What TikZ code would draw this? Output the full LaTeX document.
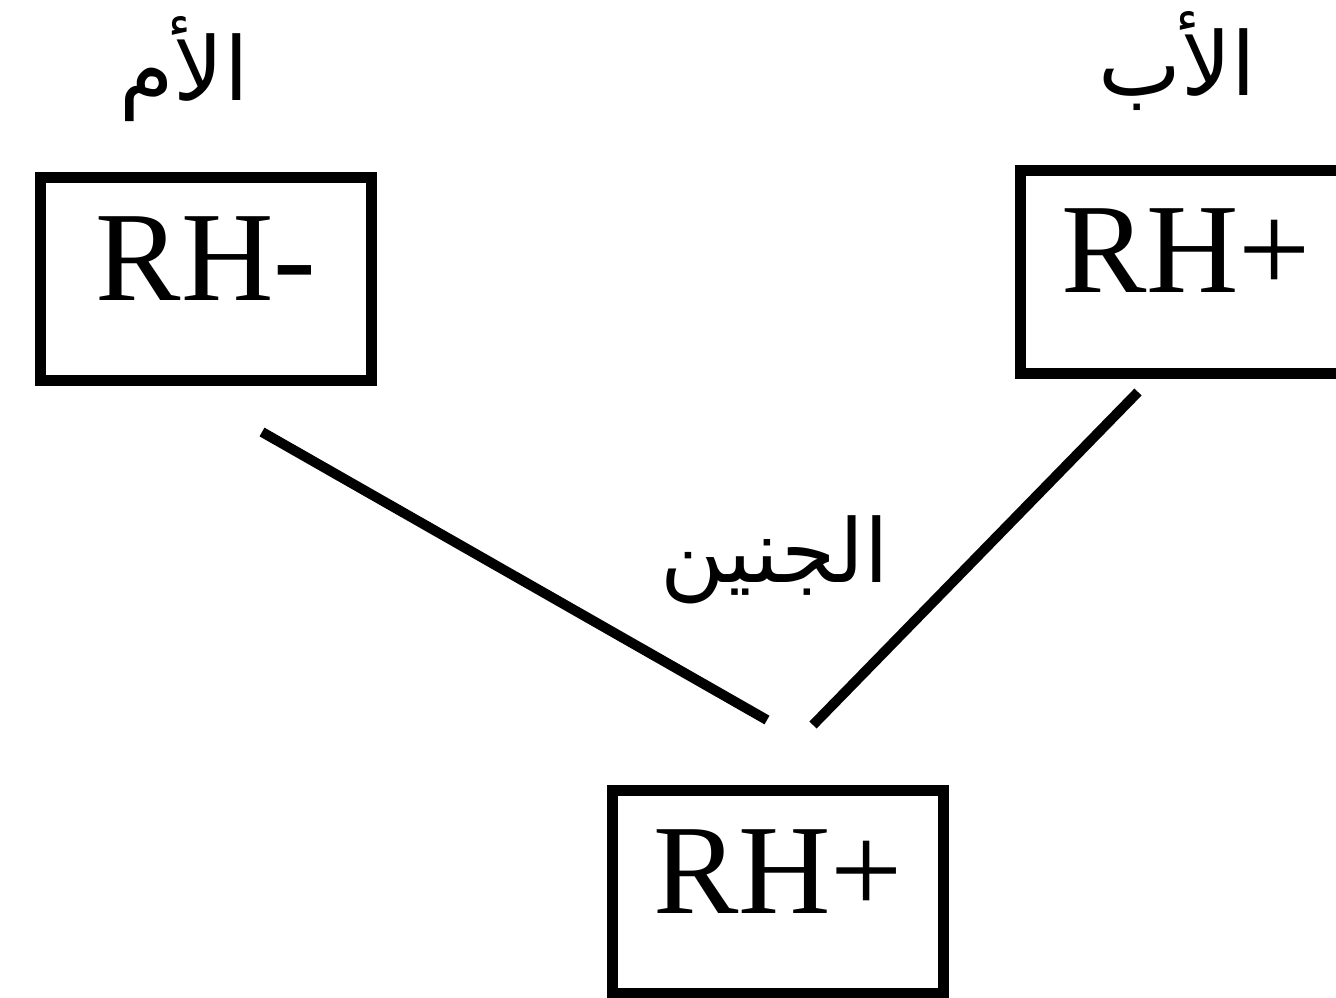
\documentclass[tikz,border=0pt]{standalone}
\usepackage{fontspec}
\usepackage{xcolor}
\usepackage{tikz}
\setmainfont{Liberation Serif}
\newfontfamily\arabicfont[Script=Arabic]{DejaVu Sans}
\TeXXeTstate=1
\definecolor{inkblack}{RGB}{0,0,0}
\newcommand{\rhfont}{\fontsize{128}{130}\selectfont}
\newcommand{\arlabel}[1]{\arabicfont\fontsize{88}{90}\selectfont\beginR #1\endR}

\begin{document}
\begin{tikzpicture}[x=1pt,y=-1pt,
    rhbox/.style={draw=inkblack, line width=11pt, rectangle, inner sep=0pt,
        minimum width=331pt, minimum height=203pt,
        text height=85pt, text depth=43pt, font=\rhfont},
    parent/.style={anchor=base, inkblack},
    link/.style={inkblack, line width=10pt}]
    % Page frame
    \clip (0,0) rectangle (1336,997);

    % Parents
    \node[rhbox] (mother) at (206,279) {RH-};
    \node[rhbox] (father) at (1186,271.5) {RH+};
    \node[parent] (motherlabel) at (184,100) {\arlabel{الأم}};
    \node[parent] (fatherlabel) at (1177,95) {\arlabel{الأب}};

    % Fetus
    \node[rhbox] (fetus) at (778,892) {RH+};
    \node[parent] (fetuslabel) at (775,582) {\arlabel{الجنين}};

    % Inheritance lines
    \coordinate (motherfrom) at (262,432);
    \coordinate (motherto) at (767,720);
    \coordinate (fatherfrom) at (1138,392);
    \coordinate (fatherto) at (813,725);
    \draw[link] (motherfrom) -- (motherto);
    \draw[link] (fatherfrom) -- (fatherto);
\end{tikzpicture}
\end{document}
